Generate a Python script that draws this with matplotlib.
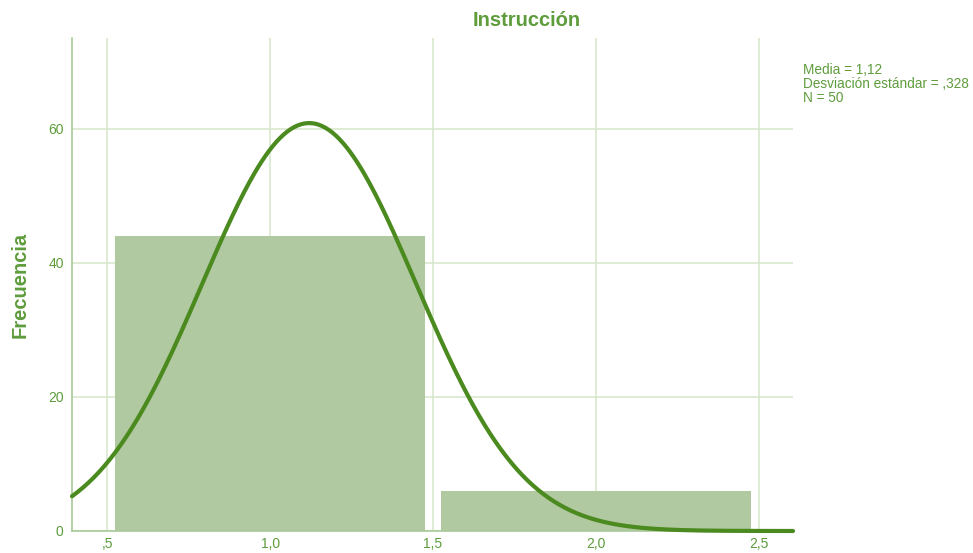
import numpy as np
import matplotlib
matplotlib.use("Agg")
import matplotlib.pyplot as plt

# Data
bin_centers = [1.0, 2.0]
frequencies = [44, 6]
mean_val = 1.12
sd_val = 0.328
n_val = 50
bin_width = 1.0
x_ticks = [0.5, 1.0, 1.5, 2.0, 2.5]
x_tick_labels = [",5", "1,0", "1,5", "2,0", "2,5"]
y_ticks = [0, 20, 40, 60]
title = "Instrucción"
ylabel = "Frecuencia"
stats_text = "Media = 1,12\nDesviación estándar = ,328\nN = 50"

plt.rcParams['font.family'] = ['Liberation Sans', 'DejaVu Sans']

text_color = "#5e9c3c"
bar_color = "#b1c9a0"
curve_color = "#4b8a1f"
grid_color = "#d8e7cd"
spine_color = "#a9c99a"

fig = plt.figure(figsize=(9.73, 5.53), dpi=100)
ax = fig.add_axes([72/973, 22/553, (793-72)/973, (531-38)/553])

xmin, xmax = 0.392, 2.605
ax.set_xlim(xmin, xmax)
ax.set_ylim(0, 73.5)

ax.bar(bin_centers, frequencies, width=0.95, color=bar_color, zorder=2)

xs = np.linspace(xmin, xmax, 400)
ys = n_val * bin_width * np.exp(-0.5 * ((xs - mean_val) / sd_val) ** 2) / (sd_val * np.sqrt(2 * np.pi))
ax.plot(xs, ys, color=curve_color, lw=3, zorder=3, clip_on=False, solid_capstyle='round')

ax.set_xticks(x_ticks)
ax.set_xticklabels(x_tick_labels)
ax.set_yticks(y_ticks)
ax.tick_params(axis='both', length=0, labelcolor=text_color, labelsize=10)
ax.tick_params(axis='x', pad=4)
ax.tick_params(axis='y', pad=6)

ax.grid(True, color=grid_color, lw=1.2, zorder=0)
ax.set_axisbelow(True)
for s in ['top', 'right']:
    ax.spines[s].set_visible(False)
for s in ['left', 'bottom']:
    ax.spines[s].set_color(spine_color)
    ax.spines[s].set_linewidth(1.2)

fig.text(527/973, 1 - 20/553, title, color=text_color, fontsize=14.5, fontweight='bold', ha='center', va='center')
fig.text(20/973, 1 - 285/553, ylabel, color=text_color, fontsize=14.5, fontweight='bold', rotation=90, ha='center', va='center')
fig.text(803/973, 1 - 63/553, stats_text, color=text_color, fontsize=9.8, ha='left', va='top', linespacing=0.98)

fig.savefig("out.png", dpi=100)
